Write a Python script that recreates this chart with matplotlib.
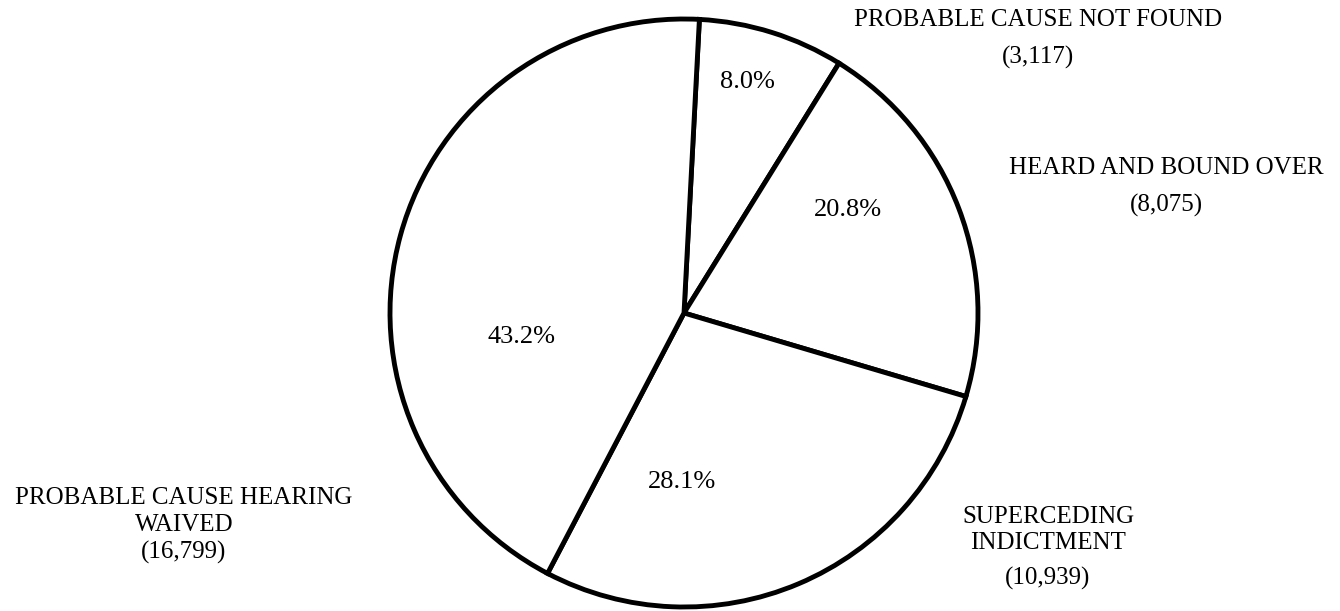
import matplotlib as mpl
import matplotlib.pyplot as plt

mpl.rcParams.update({"font.family": ["Liberation Serif", "DejaVu Serif"]})

# case outcomes, clockwise from the top
categories = [
    "PROBABLE CAUSE NOT FOUND",
    "HEARD AND BOUND OVER",
    "SUPERCEDING\nINDICTMENT",
    "PROBABLE CAUSE HEARING\nWAIVED",
]
counts = [3117, 8075, 10939, 16799]
pct_labels = ["8.0%", "20.8%", "28.1%", "43.2%"]

W, H = 1340, 611

fig = plt.figure(figsize=(W / 100, H / 100), dpi=100)
ax = fig.add_axes([0, 0, 1, 1])

ax.pie(
    counts,
    center=(684, H - 313),
    radius=294,
    startangle=87,
    counterclock=False,
    wedgeprops={"facecolor": "white", "edgecolor": "black", "linewidth": 3.5},
)

# percentage labels inside the slices (image coords, y down)
pct_pos = [(747, 82), (848, 210), (682, 482), (521, 337)]
for text, (x, y) in zip(pct_labels, pct_pos):
    ax.text(x, H - y, text, fontsize=19, ha="center", va="center")

# outer labels: name lines then count in parentheses
outer = [
    (1038, [20], 57),
    (1166, [168], 205),
    (1048, [517, 543], 578),
    (184, [498, 525], 552),
]
for name, count, (x, ys, yc) in zip(categories, counts, outer):
    for line, y in zip(name.split("\n"), ys):
        ax.text(x, H - y, line, fontsize=18, ha="center", va="center")
    ax.text(x, H - yc, f"({count:,})", fontsize=18, ha="center", va="center")

ax.set_xlim(0, W)
ax.set_ylim(0, H)
ax.set_aspect("equal")
ax.axis("off")

fig.savefig("out.png", dpi=100)
